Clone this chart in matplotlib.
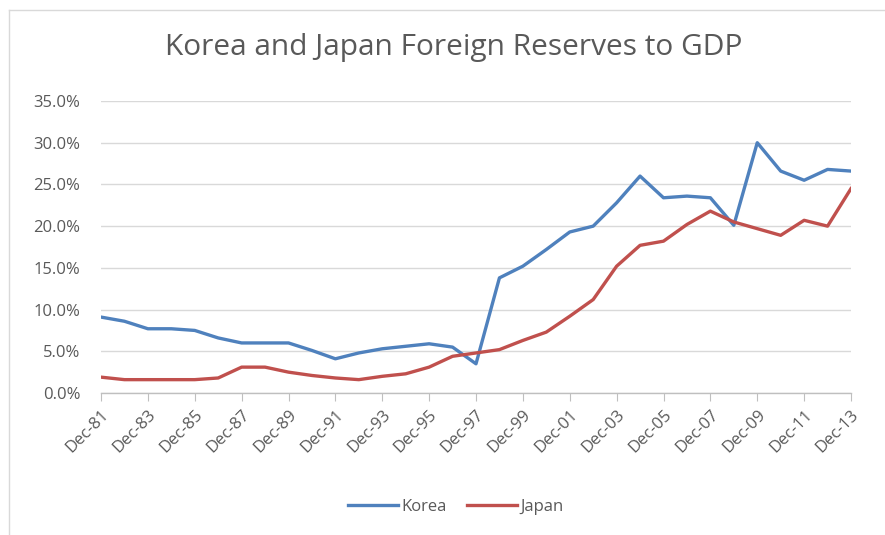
import matplotlib
matplotlib.use("Agg")
import matplotlib.pyplot as plt
from matplotlib.ticker import PercentFormatter, MultipleLocator
from matplotlib.lines import Line2D

plt.rcParams['font.family'] = ['Open Sans', 'DejaVu Sans']

years = list(range(1981, 2014))
tick_labels = [f"Dec-{y % 100:02d}" for y in years]

korea = [9.1, 8.6, 7.7, 7.7, 7.5, 6.6, 6.0, 6.0, 6.0, 5.1, 4.1, 4.8, 5.3, 5.6, 5.9, 5.5, 3.5,
         13.8, 15.2, 17.2, 19.3, 20.0, 22.8, 26.0, 23.4, 23.6, 23.4, 20.1, 30.0, 26.6, 25.5, 26.8, 26.6]
japan = [1.9, 1.6, 1.6, 1.6, 1.6, 1.8, 3.1, 3.1, 2.5, 2.1, 1.8, 1.6, 2.0, 2.3, 3.1, 4.4, 4.8,
         5.2, 6.3, 7.3, 9.2, 11.2, 15.2, 17.7, 18.2, 20.2, 21.8, 20.5, 19.7, 18.9, 20.7, 20.0, 24.5]

W, H = 885, 535
fig = plt.figure(figsize=(W / 100, H / 100), dpi=100)
ax = fig.add_axes([101 / W, 1 - 393 / H, (851 - 101) / W, (393 - 101) / H])

text_color = "#595959"
grid_color = "#D9D9D9"

x = list(range(len(years)))
ax.plot(x, korea, color="#4F81BD", lw=2.4, solid_joinstyle="round", label="Korea", zorder=3)
ax.plot(x, japan, color="#C0504D", lw=2.4, solid_joinstyle="round", label="Japan", zorder=3)

ax.set_xlim(0, len(years) - 1)
ax.set_ylim(0, 35)
ax.yaxis.set_major_locator(MultipleLocator(5))
ax.yaxis.set_major_formatter(PercentFormatter(decimals=1))
ax.grid(axis="y", color=grid_color, lw=1)
ax.set_axisbelow(True)

ax.set_xticks(x[::2])
ax.set_xticklabels(tick_labels[::2], rotation=45, ha="right", rotation_mode="anchor")
ax.tick_params(axis="x", length=6, color="#BFBFBF", labelcolor=text_color, labelsize=12, pad=4)
ax.tick_params(axis="y", length=0, labelcolor=text_color, labelsize=12, pad=15)

for s in ("top", "right", "left"):
    ax.spines[s].set_visible(False)
ax.spines["bottom"].set_color("#BFBFBF")
ax.spines["bottom"].set_linewidth(1)

fig.text(454 / W, 1 - 48 / H, "Korea and Japan Foreign Reserves to GDP",
         ha="center", va="center", fontsize=21.5, color=text_color)

fig.legend(handles=[Line2D([], [], color="#4F81BD", lw=2.4), Line2D([], [], color="#C0504D", lw=2.4)],
           labels=["Korea", "Japan"], loc="center", bbox_to_anchor=(456 / W, 1 - 507 / H),
           ncol=2, frameon=False, fontsize=12, labelcolor=text_color,
           handlelength=3.0, handletextpad=0.2, columnspacing=1.2)

# chart-area border (top and left edges)
fig.add_artist(Line2D([9 / W, 1], [1 - 10 / H, 1 - 10 / H], color="#D9D9D9", lw=1, transform=fig.transFigure))
fig.add_artist(Line2D([9 / W, 9 / W], [0, 1 - 10 / H], color="#D9D9D9", lw=1, transform=fig.transFigure))

fig.savefig("out.png", dpi=100)
